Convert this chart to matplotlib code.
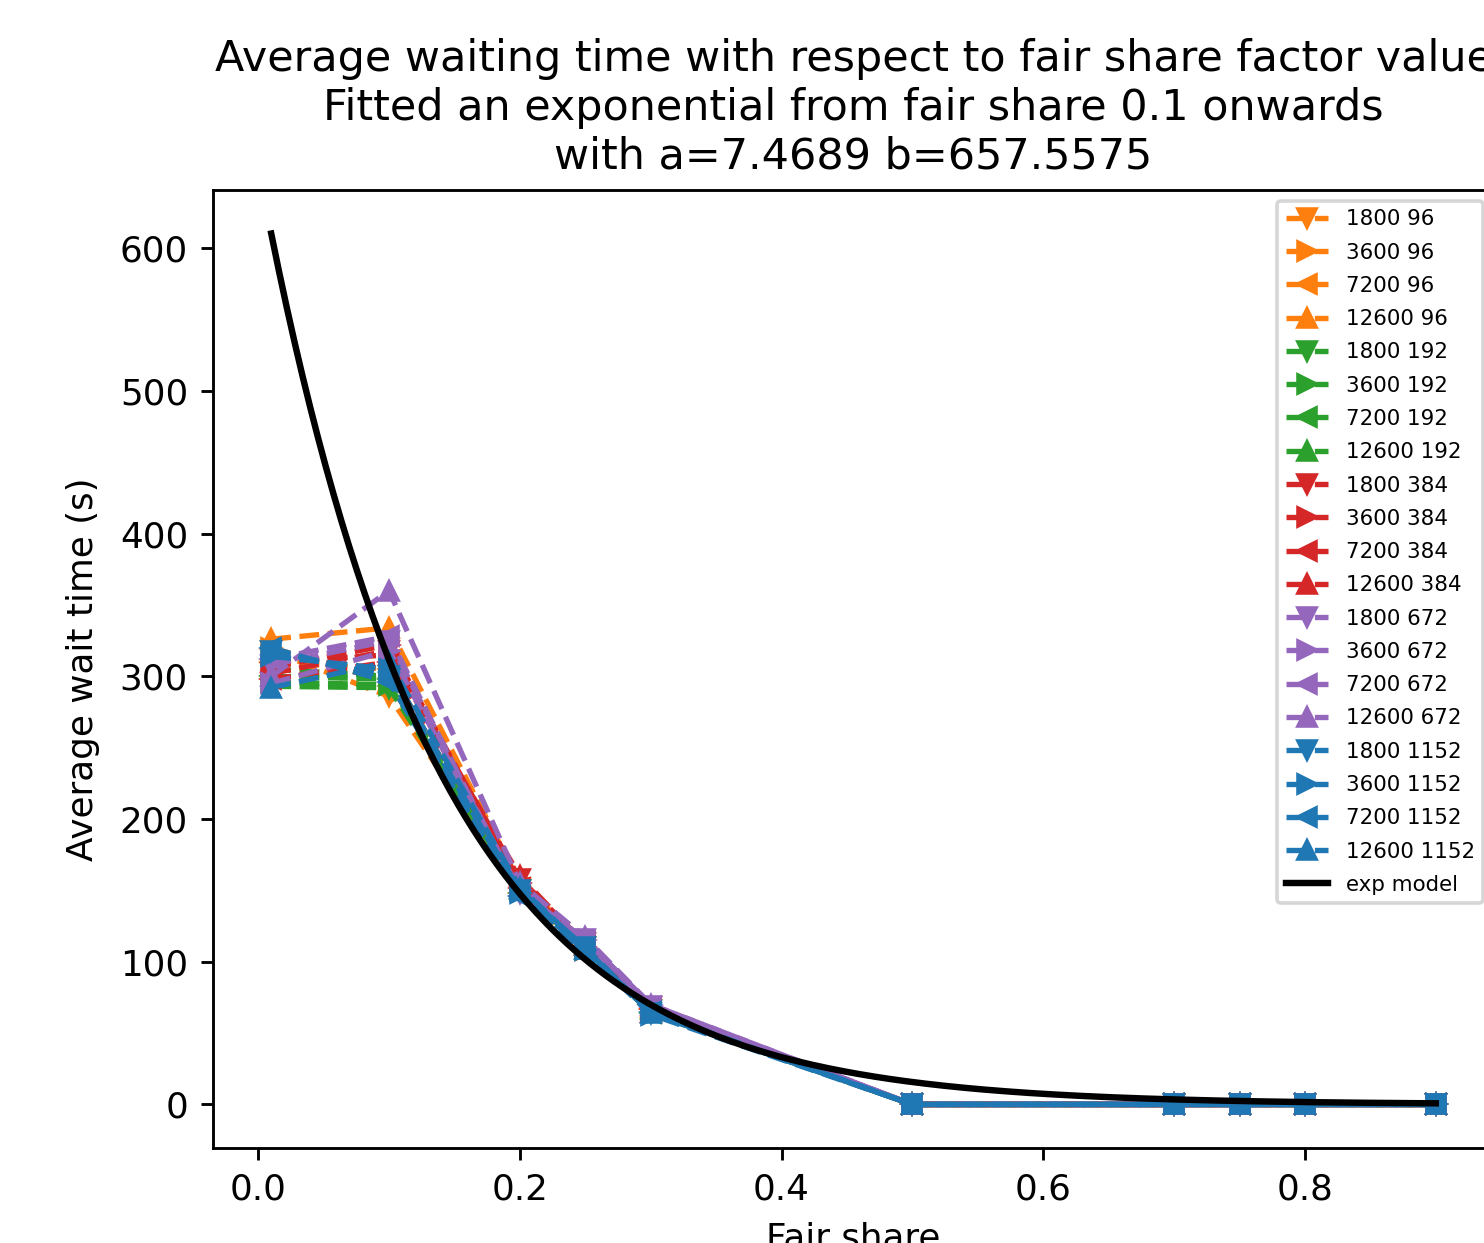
import numpy as np
import matplotlib
matplotlib.use('Agg')
import matplotlib.pyplot as plt

# fair share values used in the runs
fair_share = [0.01, 0.1, 0.2, 0.25, 0.3, 0.5, 0.7, 0.75, 0.8, 0.9]

periods = [1800, 3600, 7200, 12600]
nodes = [96, 192, 384, 672, 1152]

# average wait time (s), one list per (period, nodes) run
wait_96 = {
    1800: [318, 286, 152, 110, 66, 0, 0, 0, 0, 0],
    3600: [320, 296, 150, 108, 65, 0, 0, 0, 0, 0],
    7200: [310, 305, 148, 112, 67, 0, 0, 0, 0, 0],
    12600: [326, 334, 155, 114, 68, 0, 0, 0, 0, 0],
}
wait_192 = {
    1800: [293, 292, 150, 110, 66, 0, 0, 0, 0, 0],
    3600: [296, 294, 152, 109, 65, 0, 0, 0, 0, 0],
    7200: [300, 298, 148, 111, 64, 0, 0, 0, 0, 0],
    12600: [305, 300, 151, 112, 67, 0, 0, 0, 0, 0],
}
wait_384 = {
    1800: [302, 318, 158, 113, 68, 0, 0, 0, 0, 0],
    3600: [306, 322, 155, 110, 66, 0, 0, 0, 0, 0],
    7200: [298, 310, 152, 114, 67, 0, 0, 0, 0, 0],
    12600: [310, 315, 160, 112, 65, 0, 0, 0, 0, 0],
}
wait_672 = {
    1800: [308, 325, 148, 116, 69, 0, 0, 0, 0, 0],
    3600: [295, 318, 150, 115, 70, 0, 0, 0, 0, 0],
    7200: [312, 328, 146, 114, 68, 0, 0, 0, 0, 0],
    12600: [300, 360, 155, 117, 70, 0, 0, 0, 0, 0],
}
wait_1152 = {
    1800: [318, 300, 150, 110, 64, 0, 0, 0, 0, 0],
    3600: [314, 305, 148, 108, 63, 0, 0, 0, 0, 0],
    7200: [320, 296, 146, 107, 65, 0, 0, 0, 0, 0],
    12600: [292, 310, 152, 109, 64, 0, 0, 0, 0, 0],
}
waits = {96: wait_96, 192: wait_192, 384: wait_384, 672: wait_672, 1152: wait_1152}

# fitted model y = b * exp(-a * x)
a = 7.4689
b = 657.5575

colors = {96: 'tab:orange', 192: 'tab:green', 384: 'tab:red', 672: 'tab:purple', 1152: 'tab:blue'}
markers = {1800: 'v', 3600: '>', 7200: '<', 12600: '^'}

DPI = 257
fig = plt.figure(figsize=(1484 / DPI, 1243 / DPI), dpi=DPI)
ax = fig.add_axes([213 / 1484, 95 / 1243, 1281 / 1484, 958 / 1243])

for n in nodes:
    for p in periods:
        ax.plot(fair_share, waits[n][p], linestyle='--', marker=markers[p],
                color=colors[n], markersize=5, linewidth=1.5, label='%d %d' % (p, n))

xs = np.linspace(fair_share[0], fair_share[-1], 300)
ax.plot(xs, b * np.exp(-a * xs), color='black', linewidth=1.8, label='exp model')

ax.set_title('Average waiting time with respect to fair share factor value\n'
             'Fitted an exponential from fair share 0.1 onwards\n'
             'with a=%.4f b=%.4f' % (a, b))
ax.set_xlabel('Fair share')
ax.set_ylabel('Average wait time (s)', labelpad=5.5)
ax.legend(loc='upper right', fontsize=6, labelspacing=0.62)

plt.savefig('out.png', dpi=DPI)
plt.close()
